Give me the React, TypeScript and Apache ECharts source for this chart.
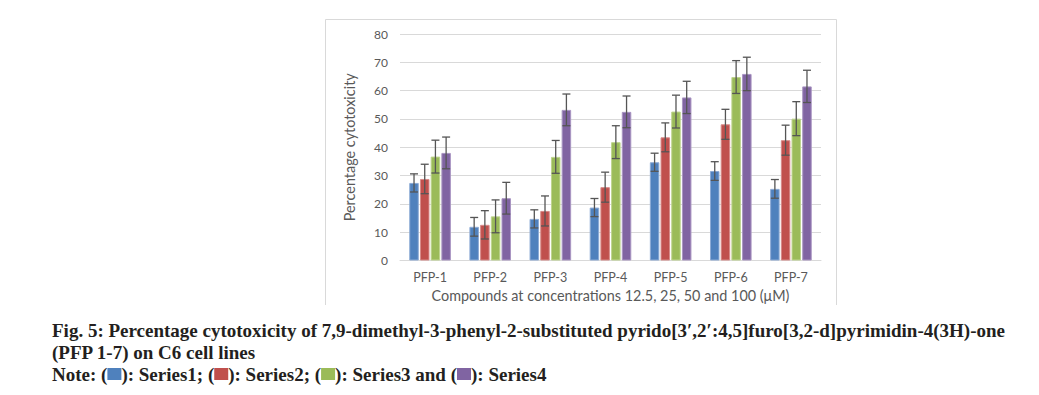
import React, { useEffect, useRef } from "react";
import * as echarts from "echarts";

const categories = ["PFP-1", "PFP-2", "PFP-3", "PFP-4", "PFP-5", "PFP-6", "PFP-7"];
const seriesNames = ["Series1", "Series2", "Series3", "Series4"];
const series1 = [27.4, 11.9, 14.7, 18.7, 34.7, 31.6, 25.3];
const series2 = [28.8, 12.6, 17.5, 25.9, 43.5, 48.1, 42.5];
const series3 = [36.7, 15.6, 36.6, 41.8, 52.6, 64.8, 50.1];
const series4 = [38.0, 22.0, 53.2, 52.5, 57.6, 65.9, 61.5];
const err1 = [3.2, 3.3, 3.2, 3.2, 3.2, 3.3, 3.3];
const err2 = [5.2, 5.0, 5.3, 5.3, 5.1, 5.3, 5.3];
const err3 = [5.8, 5.8, 5.8, 5.8, 5.8, 5.8, 6.0];
const err4 = [5.6, 5.6, 5.6, 5.6, 5.7, 5.9, 5.7];
const yTicks = { min: 0, max: 80, interval: 10 };

const colors = ["#4F81BD", "#C0504D", "#9BBB59", "#8064A2"];
const borders = ["#8CAAD5", "#D78A88", "#BED48E", "#A995C2"];

const BAR_W = 9.5;
const GAP = 1.2;

export default function App() {
  const ref = useRef<HTMLDivElement>(null);
  useEffect(() => {
    if (!ref.current) return;
    const chart = echarts.init(ref.current, null, { renderer: "svg" });
    const values = [series1, series2, series3, series4];
    const errs = [err1, err2, err3, err4];
    const font = "Lato";

    const bars = values.map((v, i) => ({
      name: seriesNames[i],
      type: "bar",
      data: v,
      barWidth: BAR_W,
      barGap: ((GAP / BAR_W) * 100).toFixed(1) + "%",
      itemStyle: { color: colors[i], borderColor: borders[i], borderWidth: 1 },
      z: 2,
    }));

    const errSeries = values.map((v, i) => ({
      name: seriesNames[i] + " error",
      type: "custom",
      z: 5,
      data: v.map((val, k) => [k, val, errs[i][k]]),
      renderItem: (params: any, api: any) => {
        const idx = api.value(0);
        const val = api.value(1);
        const e = api.value(2);
        const offset = (i - 1.5) * (BAR_W + GAP);
        const x = api.coord([idx, 0])[0] + offset;
        const yt = api.coord([idx, val + e])[1];
        const yb = api.coord([idx, val - e])[1];
        const hw = 4;
        const st = { stroke: "#555555", lineWidth: 1.3 };
        return {
          type: "group",
          children: [
            { type: "line", shape: { x1: x, y1: yt, x2: x, y2: yb }, style: st },
            { type: "line", shape: { x1: x - hw, y1: yt, x2: x + hw, y2: yt }, style: st },
            { type: "line", shape: { x1: x - hw, y1: yb, x2: x + hw, y2: yb }, style: st },
          ],
        };
      },
    }));

    const box = (c: string) => ({ backgroundColor: c, width: 14, height: 12, lineHeight: 22 });

    chart.setOption({
      animation: false,
      backgroundColor: "#ffffff",
      grid: { left: 400, right: 218, top: 34, bottom: 134.5 },
      xAxis: {
        type: "category",
        data: categories,
        axisLine: { show: true, lineStyle: { color: "#D9D9D9", width: 1 } },
        axisTick: { show: false },
        axisLabel: { color: "#595959", fontSize: 12.5, fontFamily: font, margin: 10 },
        name: "Compounds at concentrations 12.5, 25, 50 and 100 (\u03bcM)",
        nameLocation: "middle",
        nameGap: 23,
        nameTextStyle: { color: "#595959", fontSize: 14.4, fontFamily: font },
      },
      yAxis: {
        type: "value",
        min: yTicks.min,
        max: yTicks.max,
        interval: yTicks.interval,
        axisLine: { show: false },
        axisTick: { show: false },
        splitLine: { lineStyle: { color: "#D9D9D9", width: 1 } },
        axisLabel: { color: "#595959", fontSize: 12, fontFamily: font, margin: 12 },
        name: "Percentage cytotoxicity",
        nameLocation: "middle",
        nameGap: 44,
        nameTextStyle: { color: "#595959", fontSize: 14.4, fontFamily: font },
      },
      series: [...bars, ...errSeries],
      graphic: [
        {
          type: "polyline",
          shape: { points: [[325.5, 305], [325.5, 19.5], [836.5, 19.5], [836.5, 305]] },
          style: { stroke: "#D9D9D9", fill: "none", lineWidth: 1 },
          silent: true,
        },
        {
          type: "text",
          left: 52,
          top: 319,
          style: {
            text:
              "Fig. 5: Percentage cytotoxicity of 7,9-dimethyl-3-phenyl-2-substituted pyrido[3\u2032,2\u2032:4,5]furo[3,2-d]pyrimidin-4(3H)-one\n" +
              "(PFP 1-7) on C6 cell lines\n" +
              "Note: ({a| }): Series1; ({b| }): Series2; ({c| }): Series3 and ({d| }): Series4",
            font: "bold 19px 'Liberation Serif'",
            fill: "#231F20",
            lineHeight: 22,
            rich: {
              a: box(colors[0]),
              b: box(colors[1]),
              c: box(colors[2]),
              d: box(colors[3]),
            },
          },
        },
      ],
    });
    return () => chart.dispose();
  }, []);
  return (
    <div
      ref={ref}
      style={{ position: "absolute", left: 0, top: 0, width: 1039, height: 395 }}
    />
  );
}
